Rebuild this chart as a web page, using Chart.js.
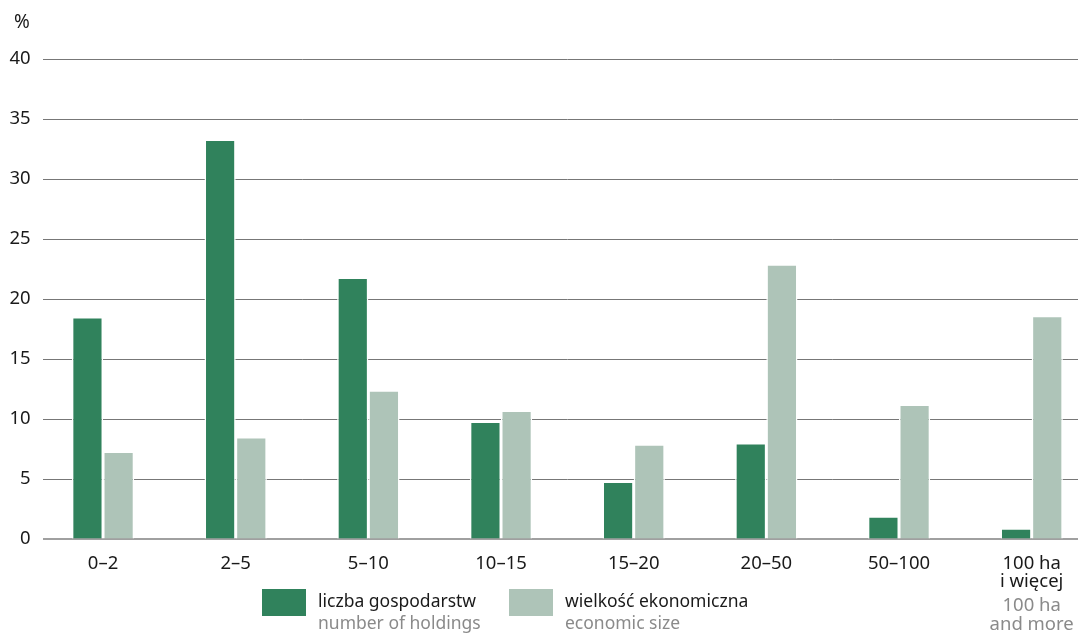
<!DOCTYPE html>
<html>
<head>
<meta charset="utf-8">
<script src="https://cdn.jsdelivr.net/npm/chart.js@4"></script>
<style>
  html, body { margin: 0; padding: 0; background: #fff; overflow: hidden; }
  body { width: 1078px; height: 637px; position: relative; font-family: "Noto Sans", sans-serif; }
  #wrap { position: absolute; left: 0; top: 0; width: 1100px; height: 637px; }
  #unit { position: absolute; left: 14px; top: 8px; font-size: 19px; color: #1a1a1a; }
  .leg { position: absolute; top: 589px; }
  .sw { position: absolute; top: 0; width: 44px; height: 27px; }
  .txt { position: absolute; top: 0; white-space: nowrap; font-size: 17.5px; line-height: 22px; color: #1a1a1a; }
  .txt .en { color: #8a8a8a; }
</style>
</head>
<body>
<div id="wrap"><canvas id="chart" width="1100" height="637"></canvas></div>
<div id="unit">%</div>
<div id="legend"></div>
<script>
// categories (farm size in ha)
let categories = ['0–2', '2–5', '5–10', '10–15', '15–20', '20–50', '50–100', ['100 ha', 'i więcej']];
let lastLabelEn = ['100 ha', 'and more'];

// series values, %
let holdings = [18.5, 33.3, 21.8, 9.8, 4.8, 8.0, 1.9, 0.9];
let economicSize = [7.3, 8.5, 12.4, 10.7, 7.9, 22.9, 11.2, 18.6];

let seriesNames = [
    {pl: 'liczba gospodarstw', en: 'number of holdings'},
    {pl: 'wielkość ekonomiczna', en: 'economic size'}
];

let yTicks = [0, 5, 10, 15, 20, 25, 30, 35, 40];

const darkGreen = 'rgb(48, 130, 92)';
const lightGreen = 'rgb(174, 196, 184)';
const fontFamily = '"Noto Sans", sans-serif';

// grid lines start a bit right of the plot edge, cover the first few px
const gridStartCover = {
    id: 'gridStartCover',
    beforeDatasetsDraw(chart) {
        const a = chart.chartArea;
        const ctx = chart.ctx;
        ctx.save();
        ctx.fillStyle = '#fff';
        ctx.fillRect(a.left - 2, a.top - 2, 43 - a.left + 2, a.bottom - a.top + 4);
        ctx.restore();
    }
};

// english line under the last category label, in grey
const englishLabel = {
    id: 'englishLabel',
    afterDraw(chart) {
        const x = chart.scales.x;
        const ctx = chart.ctx;
        const px = x.getPixelForValue(categories.length - 1);
        ctx.save();
        ctx.font = '18.5px ' + fontFamily;
        ctx.fillStyle = '#8a8a8a';
        ctx.textAlign = 'center';
        ctx.textBaseline = 'middle';
        lastLabelEn.forEach((t, i) => {
            ctx.fillText(t, px, x.top + 67 + i * 18.5);
        });
        ctx.restore();
    }
};

let ctx = document.getElementById('chart').getContext('2d');
let chart = new Chart(ctx, {
    type: 'bar',
    data: {
        labels: categories,
        datasets: [{
            label: seriesNames[0].pl,
            data: holdings,
            backgroundColor: darkGreen,
            borderColor: '#fff',
            borderWidth: 1.5,
            borderSkipped: 'bottom'
        },
        {
            label: seriesNames[1].pl,
            data: economicSize,
            backgroundColor: lightGreen,
            borderColor: '#fff',
            borderWidth: 1.5,
            borderSkipped: 'bottom'
        }]
    },
    options: {
        responsive: false,
        animation: false,
        datasets: {
            bar: { categoryPercentage: 0.47, barPercentage: 1 }
        },
        layout: { padding: { top: 59, right: 2, left: 0, bottom: 0 } },
        plugins: {
            legend: { display: false },
            tooltip: { enabled: false }
        },
        scales: {
            x: {
                grid: { display: false },
                border: { display: true, color: '#a0a0a0', width: 2 },
                ticks: {
                    color: '#1a1a1a',
                    font: { family: fontFamily, size: 18.5, lineHeight: 1 },
                    padding: 7,
                    maxRotation: 0,
                    autoSkip: false
                },
                afterFit(scale) { scale.height = 98; }
            },
            y: {
                min: 0,
                max: 40,
                afterBuildTicks(scale) {
                    scale.ticks = yTicks.map(v => ({ value: v }));
                },
                grid: {
                    color: ctx => ctx.tick && ctx.tick.value === 0 ? 'rgba(0,0,0,0)' : '#777',
                    lineWidth: 1,
                    drawTicks: false
                },
                border: { display: false },
                ticks: {
                    color: '#1a1a1a',
                    font: { family: fontFamily, size: 18.5 },
                    padding: 6
                },
                afterFit(scale) { scale.width = 36.7; }
            }
        }
    },
    plugins: [gridStartCover, englishLabel]
});

// legend (two-line, two colours) as html below the chart
let legendLeft = [262, 509];
let legendColors = [darkGreen, lightGreen];
let legendEl = document.getElementById('legend');
seriesNames.forEach((s, i) => {
    let item = document.createElement('div');
    item.className = 'leg';
    item.style.left = legendLeft[i] + 'px';
    item.innerHTML = '<div class="sw" style="left:0;background:' + legendColors[i] + '"></div>' +
        '<div class="txt" style="left:56px;top:0px">' + s.pl + '<br><span class="en">' + s.en + '</span></div>';
    legendEl.appendChild(item);
});
</script>
</body>
</html>
